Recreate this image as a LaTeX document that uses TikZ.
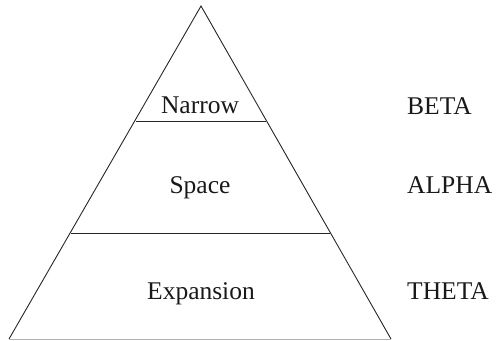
\documentclass[tikz,border=0pt]{standalone}
\usepackage{fontspec}
\setmainfont{Liberation Serif}
\begin{document}
\begin{tikzpicture}[x=1pt,y=-1pt,
  edge/.style={line width=0.9pt,draw=black!85},
  lvl/.style={font=\fontsize{25.5}{30}\selectfont,text=black!90,inner sep=0pt,anchor=base},
  side/.style={font=\fontsize{25.5}{30}\selectfont,text=black!90,inner sep=0pt,anchor=base west}]
\useasboundingbox (0,0) rectangle (497,340);
% pyramid outline
\coordinate (apex) at (201,6);
\coordinate (bl) at (9,339);
\coordinate (br) at (391,339);
\draw[edge,line join=miter] (bl) -- (apex) -- (br);
\draw[line width=0.9pt,draw=black!30] (bl) -- (br);
% level dividers
\coordinate (d1l) at (136,121.5);
\coordinate (d1r) at (266,121.5);
\coordinate (d2l) at (71,233);
\coordinate (d2r) at (330,233);
\draw[edge] (d1l) -- (d1r);
\draw[edge] (d2l) -- (d2r);
% level names
\node[lvl] (narrow) at (200,113) {Narrow};
\node[lvl] (space) at (200,193) {Space};
\node[lvl] (expansion) at (201,299) {Expansion};
% side labels
\node[side] (beta) at (407,114) {BETA};
\node[side] (alpha) at (407,193) {ALPHA};
\node[side] (theta) at (407,299) {THETA};
\end{tikzpicture}
\end{document}
